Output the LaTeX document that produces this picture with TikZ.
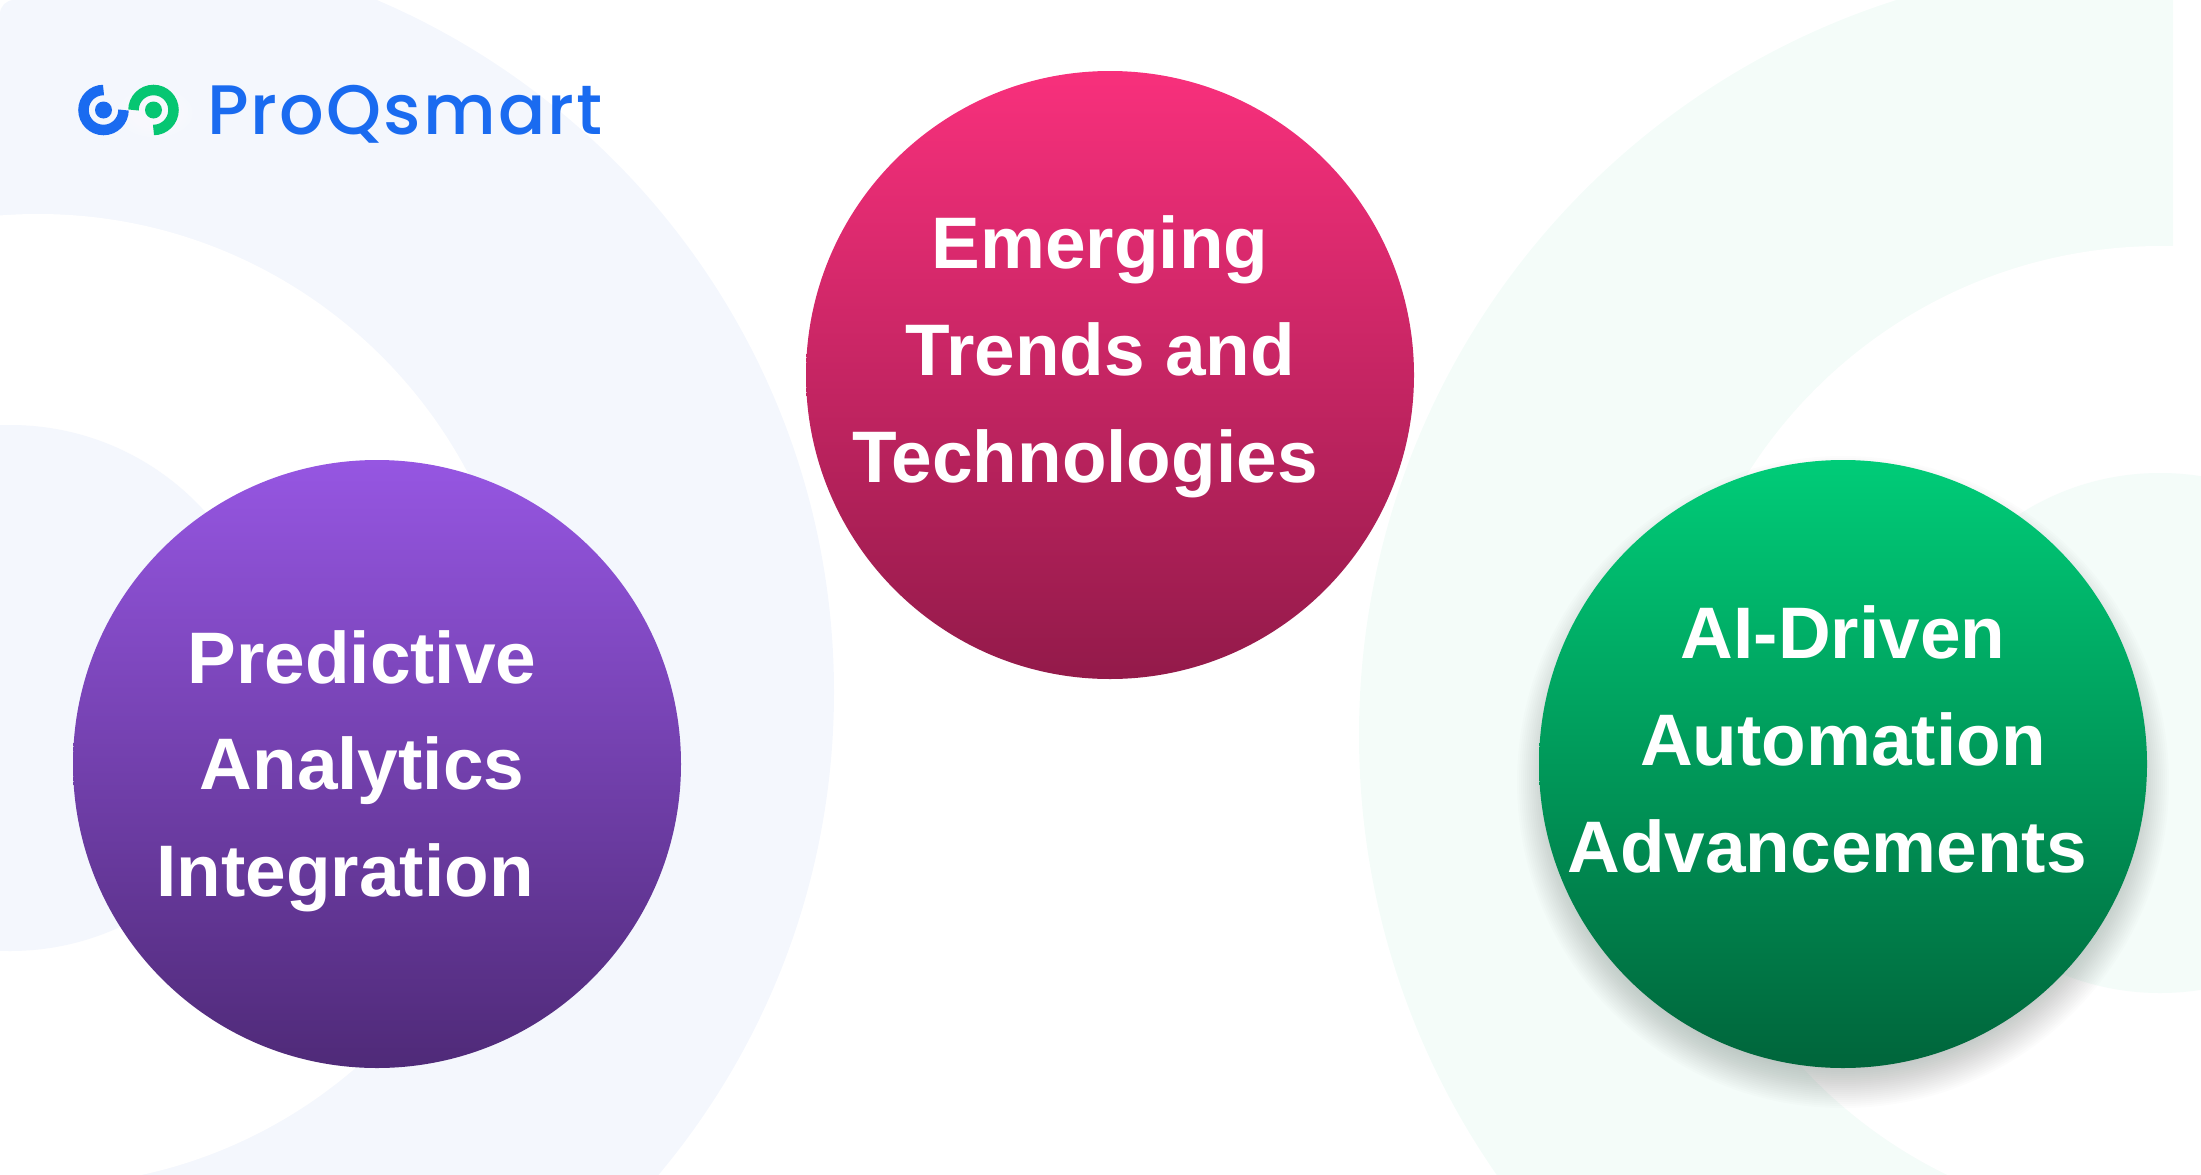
\documentclass[tikz,border=0pt]{standalone}
\usepackage{fontspec}
\setmainfont{Liberation Sans}
\newfontfamily\logofont{Poppins Medium}[LetterSpace=3]
\definecolor{paleblue}{HTML}{F4F7FD}
\definecolor{palegreen}{HTML}{F4FCF9}
\definecolor{logoblue}{HTML}{1A6BF0}
\definecolor{logogreen}{HTML}{06C672}
\definecolor{purpletop}{HTML}{9656E2}
\definecolor{purplebot}{HTML}{4F2A78}
\definecolor{pinktop}{HTML}{F8307C}
\definecolor{pinkbot}{HTML}{931A4A}
\definecolor{greentop}{HTML}{00CC78}
\definecolor{greenbot}{HTML}{00653B}
\definecolor{shadowc}{HTML}{20302A}
\tikzset{
  bigcircle/.style={circle,minimum size=608pt,inner sep=0pt,draw=none},
  lab/.style={anchor=base,text=white,inner sep=0pt,font=\fontsize{73pt}{73pt}\selectfont\bfseries},
  logoarc/.style={line width=10.5pt},
}
\begin{document}
\begin{tikzpicture}[x=1pt,y=-1pt]
\useasboundingbox (0,0) rectangle (2201,1175);
\clip (0,0) rectangle (2201,1175);
% left backdrop
\begin{scope}
\clip[rounded corners=14pt] (0,0) rectangle (1200,1400);
\fill[paleblue] (82,692) circle[radius=752];
\end{scope}
\fill[white] (38,700) circle[radius=486];
\fill[paleblue] (10,688) circle[radius=263];
% right backdrop
\begin{scope}
\clip (1200,0) rectangle (2173,1175);
\fill[palegreen] (2130,735) circle[radius=771];
\end{scope}
\fill[white] (2161,735) circle[radius=489];
\fill[palegreen] (2160,733) circle[radius=260];
% soft shadow of the green circle
\foreach \r in {280,282,...,326}{
  \fill[shadowc,opacity=0.013] (1843,782) circle[radius=\r];
}
% circles
\node[bigcircle,top color=purpletop,bottom color=purplebot] (predictive) at (377,764) {};
\node[bigcircle,top color=pinktop,bottom color=pinkbot] (emerging) at (1110,375) {};
\node[bigcircle,top color=greentop,bottom color=greenbot] (automation) at (1843,764) {};
% labels
\node[lab] (e1) at (1100,268.5) {Emerging};
\node[lab] (e2) at (1100.5,375) {Trends and};
\node[lab] (e3) at (1085,482) {Technologies};
\node[lab] (p1) at (362,683) {Predictive};
\node[lab] (p2) at (362,789) {Analytics};
\node[lab] (p3) at (345,896) {Integration};
\node[lab] (a1) at (1843,658.5) {AI-Driven};
\node[lab] (a2) at (1843,765) {Automation};
\node[lab] (a3) at (1827,872) {Advancements};
% logo
\foreach \r in {0.4,0.5,...,1.0}{
  \fill[white,opacity=0.14] (155,113) ellipse[x radius=\r*42,y radius=\r*27];
}
\fill[logoblue] (103.5,110) circle[radius=8.5];
\fill[logogreen] (153.5,110) circle[radius=8.5];
\draw[logoarc,logoblue] (103.5,90) arc[start angle=270,end angle=0,radius=20];
\draw[logoarc,logogreen] (133.5,110) arc[start angle=180,end angle=450,radius=20];
\node[anchor=base west,inner sep=0pt,text=logoblue,font=\logofont\fontsize{70pt}{70pt}\selectfont] (brand) at (207,134) {ProQsmart};
\end{tikzpicture}
\end{document}
